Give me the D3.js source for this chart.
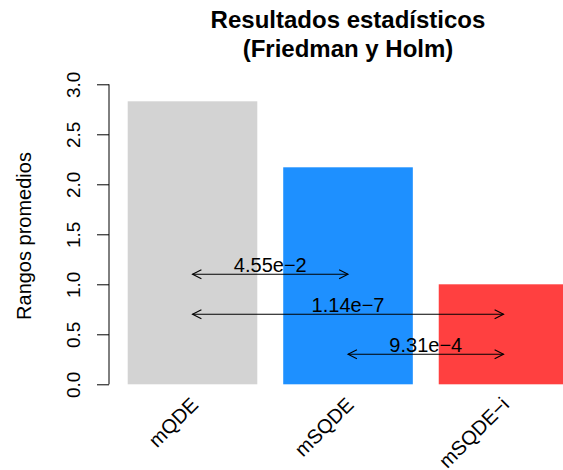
<!DOCTYPE html>
<html>
<head>
<meta charset="utf-8">
<script src="https://cdn.jsdelivr.net/npm/d3@7"></script>
<style>
  html, body { margin: 0; padding: 0; background: #fff; }
  svg { display: block; }
  text { font-family: "Liberation Sans", Arial, Helvetica, sans-serif; fill: #000; }
</style>
</head>
<body>
<script>
// Average Friedman ranks per method
const categories = ["mQDE", "mSQDE", "mSQDE\u2212i"];
const meanRanks = [2.83, 2.17, 1.00];
const barColors = ["#d3d3d3", "#1e90ff", "#ff4040"];

// Holm-adjusted pairwise comparisons
const pairFrom = [0, 0, 1];
const pairTo = [1, 2, 2];
const pLabels = ["4.55e\u22122", "1.14e\u22127", "9.31e\u22124"];
const pairHeights = [1.1, 0.7, 0.3];

// Y axis ticks
const yTicks = [0, 0.5, 1, 1.5, 2, 2.5, 3];

const W = 563, H = 470;
const svg = d3.select("body").append("svg").attr("width", W).attr("height", H);

const x = d3.scaleBand()
  .domain(categories)
  .range([114.74, 581.3])
  .paddingInner(1 / 6)
  .paddingOuter(1 / 12);

const y = d3.scaleLinear().domain([0, 3]).range([384.3, 84.3]);
const axisX = 109;

// Bars
svg.append("g").selectAll("rect")
  .data(categories)
  .join("rect")
  .attr("x", d => x(d))
  .attr("y", (d, i) => y(meanRanks[i]))
  .attr("width", x.bandwidth())
  .attr("height", (d, i) => y(0) - y(meanRanks[i]))
  .attr("fill", (d, i) => barColors[i]);

// Y axis
const yAxis = d3.axisLeft(y).tickValues(yTicks).tickSize(12).tickFormat(d3.format(".1f"));
const gy = svg.append("g").attr("transform", `translate(${axisX},0)`).call(yAxis);
gy.select(".domain").attr("d", `M-12,${y(0)}H0V${y(3)}H-12`).attr("stroke", "#000").attr("stroke-width", 1);
gy.selectAll(".tick").each(function(d) {
  const t = d3.select(this);
  t.select("line").attr("stroke", "#000").attr("stroke-width", 1);
  t.select("line").attr("x2", -12);
  t.select("text")
    .attr("x", 0).attr("y", 0).attr("dy", null)
    .attr("transform", `translate(-29,0) rotate(-90)`)
    .attr("text-anchor", "middle")
    .style("font-size", "19px")
    .style("font-family", "'Liberation Sans', Arial, sans-serif")
    .attr("fill", "#000");
});
gy.select(".domain").attr("d", `M0,${y(0)}V${y(3)}`);

// Y axis title
svg.append("text")
  .attr("transform", `translate(31,236) rotate(-90)`)
  .attr("text-anchor", "middle")
  .style("font-size", "20px")
  .text("Rangos promedios");

// Category labels, slanted
svg.append("g").selectAll("text")
  .data(categories)
  .join("text")
  .attr("transform", d => `translate(${x(d) + x.bandwidth() / 2 + 2},401) rotate(-45)`)
  .attr("text-anchor", "end")
  .attr("dominant-baseline", "central")
  .style("font-size", "20px")
  .text(d => d);

// Comparison arrows
const defs = svg.append("defs");
function headPath(len, ang) {
  const a = ang * Math.PI / 180;
  const dx = len * Math.cos(a), dy = len * Math.sin(a);
  return `M${-dx},${-dy}L0,0L${-dx},${dy}`;
}
defs.append("marker")
  .attr("id", "head")
  .attr("markerUnits", "userSpaceOnUse")
  .attr("viewBox", "-12 -8 14 16")
  .attr("refX", 0).attr("refY", 0)
  .attr("markerWidth", 14).attr("markerHeight", 16)
  .attr("orient", "auto-start-reverse")
  .append("path")
  .attr("d", headPath(10, 27))
  .attr("fill", "none")
  .attr("stroke", "#000")
  .attr("stroke-width", 1.1);

const center = i => x(categories[i]) + x.bandwidth() / 2;

const arrows = svg.append("g");
pairFrom.forEach((f, k) => {
  const t = pairTo[k];
  const yy = y(pairHeights[k]);
  arrows.append("line")
    .attr("x1", center(f)).attr("x2", center(t))
    .attr("y1", yy).attr("y2", yy)
    .attr("stroke", "#000").attr("stroke-width", 1.1)
    .attr("marker-start", "url(#head)")
    .attr("marker-end", "url(#head)");
  arrows.append("text")
    .attr("x", (center(f) + center(t)) / 2)
    .attr("y", yy - 2.5)
    .attr("text-anchor", "middle")
    .style("font-size", "20px")
    .text(pLabels[k]);
});

// Title
const title = svg.append("text")
  .attr("text-anchor", "middle")
  .style("font-size", "24px")
  .style("font-weight", "bold");
title.append("tspan").attr("x", 348).attr("y", 28.3).text("Resultados estadísticos");
title.append("tspan").attr("x", 348).attr("y", 57.3).text("(Friedman y Holm)");
</script>
</body>
</html>
